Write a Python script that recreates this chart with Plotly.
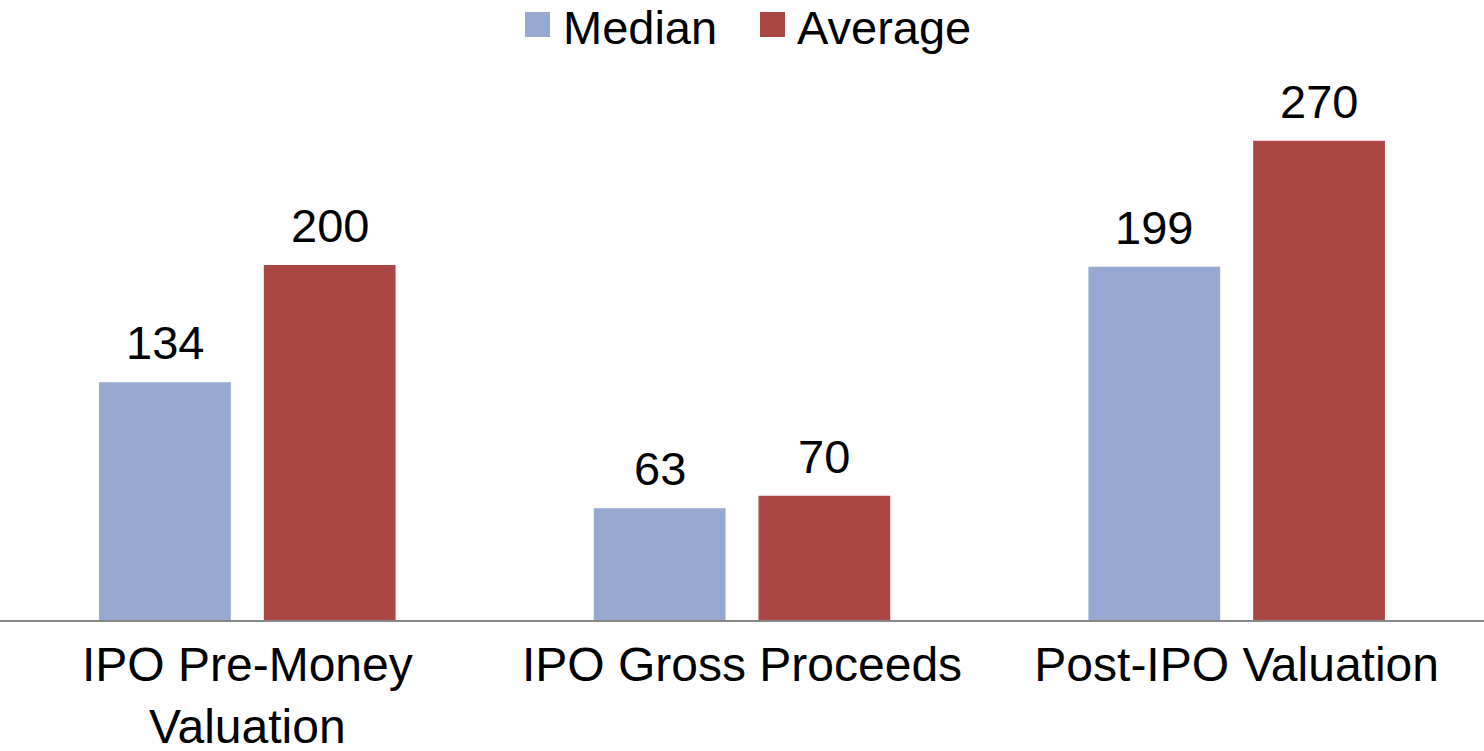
import plotly.graph_objects as go

categories = ["IPO Pre-Money<br>Valuation", "IPO Gross Proceeds", "Post-IPO Valuation"]
series_names = ["Median", "Average"]
median_values = [134, 63, 199]
average_values = [200, 70, 270]
series_colors = ["#95A9D1", "#AA4643"]

W, H = 1484, 751
T, B = 50, 131
FONT = "Liberation Sans, Arial, sans-serif"
BARGAP = 0.334
BARGROUPGAP = 0.2

fig = go.Figure()
all_values = [median_values, average_values]
for name, vals, col in zip(series_names, all_values, series_colors):
    fig.add_trace(go.Bar(
        x=categories, y=vals, name=name, marker=dict(color=col, line=dict(width=0)),
        cliponaxis=False, showlegend=False,
    ))

annotations = []
shapes = []

# value labels above bars, placed at each bar's centre on the category axis
n_series = len(series_names)
slot = (1 - BARGAP) / n_series
for i, vals in enumerate(all_values):
    offset = (i - (n_series - 1) / 2) * slot
    for j, v in enumerate(vals):
        annotations.append(dict(
            x=j + offset, y=v, xref="x", yref="y", text=str(v), showarrow=False,
            xanchor="center", yanchor="bottom", yshift=11,
            font=dict(family=FONT, size=47, color="black")))

# manual legend (larger swatches than plotly's native legend allows)
plot_h = H - T - B
def py(pixel_y):
    return (H - B - pixel_y) / plot_h

legend_sq_x = [525, 760]
legend_txt_x = [563, 797]
for name, col, sx, tx in zip(series_names, series_colors, legend_sq_x, legend_txt_x):
    shapes.append(dict(type="rect", xref="paper", yref="paper",
                       x0=sx / W, x1=(sx + 25) / W, y0=py(37), y1=py(12),
                       fillcolor=col, line=dict(width=0)))
    annotations.append(dict(text=name, xref="paper", yref="paper", x=(tx - 2) / W, y=py(27),
                            xanchor="left", yanchor="middle", showarrow=False,
                            font=dict(family=FONT, size=47, color="black")))

fig.update_layout(
    width=W, height=H,
    margin=dict(l=0, r=0, t=T, b=B, pad=0, autoexpand=False),
    paper_bgcolor="white", plot_bgcolor="white",
    barmode="group", bargap=BARGAP, bargroupgap=BARGROUPGAP,
    font=dict(family=FONT, size=48, color="black"),
    shapes=shapes, annotations=annotations,
    xaxis=dict(showline=True, linecolor="#888888", linewidth=2, showgrid=False,
               ticks="", tickfont=dict(family=FONT, size=48, color="black"),
               ticklabelstandoff=1, automargin=False,
               range=[-0.5, 2.5], fixedrange=True),
    yaxis=dict(visible=False, range=[0, 321.1], fixedrange=True, automargin=False),
)

fig.write_html("out.html")
